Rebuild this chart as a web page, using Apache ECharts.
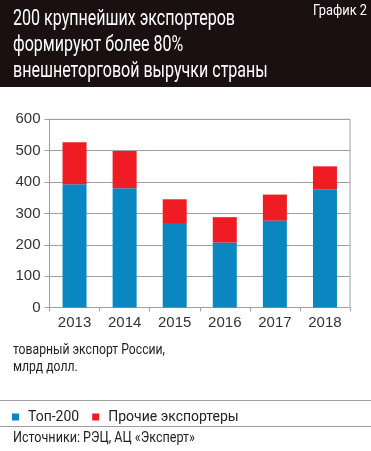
<!DOCTYPE html>
<html><head><meta charset="utf-8">
<script src="https://cdn.jsdelivr.net/npm/echarts@6/dist/echarts.min.js"></script>
<style>html,body{margin:0;padding:0;background:#fff}#c{width:371px;height:451px}</style>
</head><body><div id="c"></div>
<script>
const years = ['2013','2014','2015','2016','2017','2018'];
const top200 = [393, 380, 269, 207, 277, 377];
const others = [134, 119, 76, 81, 83, 73];
const yTicks = [0, 100, 200, 300, 400, 500, 600];
const seriesNames = ['Топ-200', 'Прочие экспортеры'];
const titleLines = ['200 крупнейших экспортеров', 'формируют более 80%', 'внешнеторговой выручки страны'];
const chartLabel = 'График 2';
const unitLines = ['товарный экспорт России,', 'млрд долл.'];
const sourceText = 'Источники: РЭЦ, АЦ «Эксперт»';

const FONT = 'Roboto, "Liberation Sans", sans-serif';
const mctx = document.createElement('canvas').getContext('2d');
function squeeze(text, size, target) {
  mctx.font = size + 'px ' + FONT;
  return target / mctx.measureText(text).width;
}
function condText(text, x, y, size, sx, fill, align) {
  return {type: 'text', x: x, y: y, scaleX: sx, scaleY: 1,
    style: {text: text, fill: fill, font: size + 'px ' + FONT, align: align || 'left', verticalAlign: 'middle'}};
}

const chart = echarts.init(document.getElementById('c'), null, {renderer: 'canvas'});
const titleScale = squeeze(titleLines[0], 22, 222);
const bodyScale = squeeze(unitLines[0], 15, 152);
const srcScale = squeeze(sourceText, 15, 182);
const lblScale = squeeze(chartLabel, 14, 54);
const graphics = [
  {type: 'rect', shape: {x: 0, y: 0, width: 371, height: 87}, style: {fill: '#1a1011'}, z: 0},
  condText(chartLabel, 367, 11.5, 14, lblScale, '#fff', 'right')
];
titleLines.forEach((t, i) => graphics.push(condText(t, 13, 19.5 + i * 26, 22, titleScale, '#fff')));
unitLines.forEach((t, i) => graphics.push(condText(t, 13, 350.5 + i * 17, 15, bodyScale, '#222')));
graphics.push(
  {type: 'line', shape: {x1: 0, y1: 400.5, x2: 371, y2: 400.5}, style: {stroke: '#a0a0a0', lineWidth: 1}},
  {type: 'line', shape: {x1: 0, y1: 426.5, x2: 371, y2: 426.5}, style: {stroke: '#a0a0a0', lineWidth: 1}},
  condText(sourceText, 13, 438.5, 15, srcScale, '#222')
);

chart.setOption({
  animation: false,
  textStyle: {fontFamily: '"Liberation Sans", Arial, sans-serif'},
  grid: {left: 49.5, right: 21, top: 119.3, bottom: 143.5, show: true, borderColor: '#a0a0a0', borderWidth: 1},
  legend: {
    left: 7, top: 405, itemWidth: 7, itemHeight: 7, icon: 'rect', itemGap: 13,
    textStyle: {fontFamily: FONT, fontSize: 14, color: '#222', padding: [0, 0, 0, 4]},
    data: seriesNames
  },
  xAxis: {
    type: 'category', data: years,
    axisLine: {lineStyle: {color: '#a0a0a0'}},
    axisTick: {show: true, length: 4, lineStyle: {color: '#a0a0a0'}},
    axisLabel: {fontSize: 15, color: '#333', margin: 8}
  },
  yAxis: {
    type: 'value', min: yTicks[0], max: yTicks[yTicks.length - 1], interval: 100,
    axisLine: {show: true, lineStyle: {color: '#a0a0a0'}},
    axisTick: {show: true, length: 5, lineStyle: {color: '#a0a0a0'}},
    splitLine: {lineStyle: {color: '#a0a0a0'}},
    axisLabel: {fontSize: 15, color: '#333', margin: 9}
  },
  series: [
    {name: seriesNames[0], type: 'bar', stack: 'a', data: top200, barWidth: 24, itemStyle: {color: '#0a87c0'}},
    {name: seriesNames[1], type: 'bar', stack: 'a', data: others, barWidth: 24, itemStyle: {color: '#ef1c24'}}
  ],
  graphic: graphics
});
</script></body></html>
